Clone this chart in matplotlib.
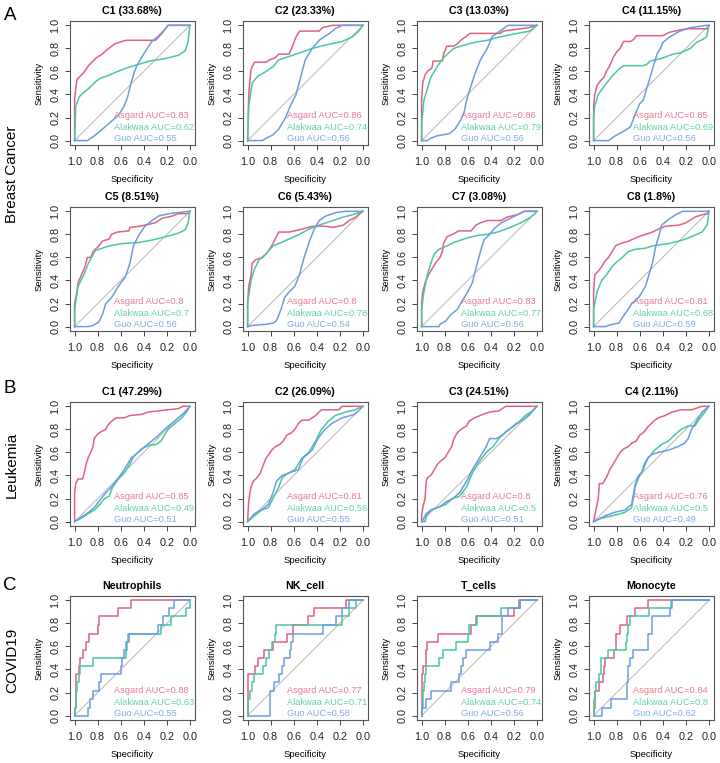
import numpy as np
import matplotlib
matplotlib.use("Agg")
import matplotlib.pyplot as plt

plt.rcParams["font.family"] = ["Liberation Sans", "DejaVu Sans"]

# ---- colours ----
RED = "#E2627A"
GREEN = "#48C89C"
BLUE = "#6C9BE6"

# ---- Breast cancer (A) ----
bc_titles = ["C1 (33.68%)", "C2 (23.33%)", "C3 (13.03%)", "C4 (11.15%)",
             "C5 (8.51%)", "C6 (5.43%)", "C7 (3.08%)", "C8 (1.8%)"]
bc_auc_asgard = [0.83, 0.86, 0.86, 0.85, 0.8, 0.8, 0.83, 0.81]
bc_auc_alakwaa = [0.62, 0.74, 0.79, 0.69, 0.7, 0.78, 0.77, 0.68]
bc_auc_guo = [0.55, 0.56, 0.56, 0.56, 0.56, 0.54, 0.56, 0.59]

bc1_asgard_spec = [1.0, 1.0, 0.99, 0.98, 0.95, 0.92, 0.90, 0.88, 0.85, 0.81, 0.76, 0.73, 0.69, 0.65, 0.59, 0.55, 0.30, 0.25, 0.19, 0.0]
bc1_asgard_sens = [0.0, 0.35, 0.45, 0.53, 0.56, 0.59, 0.62, 0.65, 0.68, 0.72, 0.75, 0.78, 0.81, 0.84, 0.86, 0.87, 0.87, 0.92, 1.0, 1.0]
bc1_alakwaa_spec = [1.0, 0.99, 0.96, 0.93, 0.88, 0.82, 0.78, 0.72, 0.65, 0.55, 0.45, 0.35, 0.22, 0.10, 0.04, 0.015, 0.0]
bc1_alakwaa_sens = [0.0, 0.30, 0.38, 0.41, 0.45, 0.51, 0.54, 0.56, 0.59, 0.63, 0.66, 0.69, 0.71, 0.74, 0.78, 0.86, 1.0]
bc1_guo_spec = [1.0, 0.89, 0.83, 0.77, 0.70, 0.62, 0.57, 0.54, 0.51, 0.48, 0.46, 0.42, 0.37, 0.33, 0.28, 0.23, 0.19, 0.0]
bc1_guo_sens = [0.0, 0.0, 0.04, 0.09, 0.15, 0.22, 0.30, 0.38, 0.50, 0.60, 0.65, 0.72, 0.80, 0.86, 0.90, 0.95, 1.0, 1.0]

bc2_asgard_spec = [1.0, 0.99, 0.98, 0.97, 0.94, 0.84, 0.81, 0.76, 0.73, 0.64, 0.61, 0.58, 0.55, 0.38, 0.35, 0.27, 0.0]
bc2_asgard_sens = [0.0, 0.40, 0.52, 0.62, 0.68, 0.68, 0.70, 0.72, 0.75, 0.75, 0.82, 0.90, 0.95, 0.95, 0.98, 1.0, 1.0]
bc2_alakwaa_spec = [1.0, 0.99, 0.96, 0.91, 0.84, 0.78, 0.73, 0.64, 0.55, 0.44, 0.32, 0.18, 0.09, 0.035, 0.0]
bc2_alakwaa_sens = [0.0, 0.30, 0.50, 0.56, 0.60, 0.64, 0.70, 0.73, 0.76, 0.80, 0.83, 0.86, 0.90, 0.95, 1.0]
bc2_guo_spec = [1.0, 0.87, 0.84, 0.78, 0.73, 0.67, 0.63, 0.58, 0.54, 0.50, 0.44, 0.38, 0.29, 0.24, 0.18, 0.0]
bc2_guo_sens = [0.0, 0.0, 0.02, 0.05, 0.10, 0.20, 0.30, 0.40, 0.55, 0.70, 0.80, 0.87, 0.93, 0.97, 1.0, 1.0]

bc3_asgard_spec = [1.0, 1.0, 0.99, 0.97, 0.95, 0.91, 0.90, 0.82, 0.81, 0.78, 0.72, 0.69, 0.66, 0.58, 0.32, 0.29, 0.14, 0.07, 0.0]
bc3_asgard_sens = [0.0, 0.35, 0.50, 0.57, 0.60, 0.63, 0.69, 0.69, 0.75, 0.82, 0.82, 0.84, 0.87, 0.93, 0.93, 0.95, 0.97, 0.98, 1.0]
bc3_alakwaa_spec = [1.0, 1.0, 0.98, 0.95, 0.92, 0.86, 0.81, 0.72, 0.66, 0.55, 0.43, 0.32, 0.17, 0.06, 0.0]
bc3_alakwaa_sens = [0.0, 0.15, 0.35, 0.45, 0.55, 0.65, 0.72, 0.80, 0.82, 0.85, 0.87, 0.90, 0.93, 0.95, 1.0]
bc3_guo_spec = [1.0, 0.95, 0.92, 0.87, 0.82, 0.76, 0.71, 0.66, 0.63, 0.61, 0.58, 0.53, 0.49, 0.43, 0.39, 0.32, 0.25, 0.0]
bc3_guo_sens = [0.0, 0.0, 0.02, 0.04, 0.05, 0.06, 0.10, 0.18, 0.25, 0.35, 0.45, 0.60, 0.70, 0.80, 0.90, 0.95, 1.0, 1.0]

bc4_asgard_spec = [1.0, 1.0, 0.99, 0.97, 0.94, 0.91, 0.89, 0.86, 0.83, 0.80, 0.77, 0.74, 0.68, 0.65, 0.63, 0.40, 0.34, 0.25, 0.19, 0.01, 0.0]
bc4_asgard_sens = [0.0, 0.30, 0.40, 0.48, 0.52, 0.55, 0.60, 0.65, 0.72, 0.77, 0.80, 0.86, 0.86, 0.88, 0.91, 0.91, 0.94, 0.96, 0.97, 0.97, 1.0]
bc4_alakwaa_spec = [1.0, 1.0, 0.99, 0.96, 0.91, 0.87, 0.83, 0.78, 0.74, 0.57, 0.54, 0.51, 0.42, 0.31, 0.25, 0.16, 0.11, 0.05, 0.02, 0.0]
bc4_alakwaa_sens = [0.0, 0.20, 0.30, 0.40, 0.47, 0.52, 0.57, 0.62, 0.65, 0.65, 0.66, 0.69, 0.71, 0.75, 0.76, 0.80, 0.85, 0.88, 0.90, 1.0]
bc4_guo_spec = [1.0, 0.87, 0.83, 0.78, 0.74, 0.68, 0.65, 0.63, 0.60, 0.57, 0.54, 0.51, 0.48, 0.45, 0.42, 0.40, 0.34, 0.25, 0.16, 0.02, 0.0]
bc4_guo_sens = [0.0, 0.0, 0.03, 0.06, 0.08, 0.12, 0.20, 0.25, 0.32, 0.35, 0.45, 0.55, 0.65, 0.75, 0.80, 0.85, 0.90, 0.95, 0.98, 1.0, 1.0]

bc5_asgard_spec = [1.0, 1.0, 0.98, 0.97, 0.94, 0.91, 0.89, 0.86, 0.84, 0.79, 0.76, 0.70, 0.68, 0.63, 0.53, 0.52, 0.44, 0.39, 0.30, 0.24, 0.15, 0.10, 0.01, 0.0]
bc5_asgard_sens = [0.0, 0.20, 0.30, 0.38, 0.45, 0.52, 0.60, 0.60, 0.65, 0.70, 0.74, 0.76, 0.80, 0.82, 0.83, 0.86, 0.87, 0.88, 0.90, 0.94, 0.96, 0.98, 0.98, 1.0]
bc5_alakwaa_spec = [1.0, 1.0, 0.97, 0.92, 0.88, 0.82, 0.70, 0.59, 0.44, 0.33, 0.21, 0.10, 0.04, 0.015, 0.0]
bc5_alakwaa_sens = [0.0, 0.15, 0.35, 0.45, 0.55, 0.66, 0.70, 0.72, 0.73, 0.75, 0.78, 0.81, 0.84, 0.90, 1.0]
bc5_guo_spec = [1.0, 0.88, 0.84, 0.79, 0.76, 0.73, 0.68, 0.62, 0.56, 0.52, 0.49, 0.44, 0.39, 0.33, 0.27, 0.18, 0.01, 0.0]
bc5_guo_sens = [0.0, 0.0, 0.01, 0.04, 0.10, 0.20, 0.25, 0.35, 0.43, 0.55, 0.70, 0.80, 0.87, 0.92, 0.96, 0.98, 1.0, 1.0]

bc6_asgard_spec = [1.0, 1.0, 0.99, 0.97, 0.96, 0.93, 0.87, 0.84, 0.81, 0.78, 0.75, 0.73, 0.64, 0.55, 0.44, 0.32, 0.26, 0.17, 0.12, 0.06, 0.03, 0.0]
bc6_asgard_sens = [0.0, 0.20, 0.35, 0.45, 0.55, 0.58, 0.60, 0.63, 0.67, 0.72, 0.78, 0.82, 0.82, 0.84, 0.87, 0.87, 0.86, 0.88, 0.92, 0.95, 0.98, 1.0]
bc6_alakwaa_spec = [1.0, 1.0, 0.97, 0.94, 0.90, 0.84, 0.78, 0.73, 0.64, 0.55, 0.46, 0.38, 0.26, 0.17, 0.09, 0.0]
bc6_alakwaa_sens = [0.0, 0.20, 0.40, 0.50, 0.58, 0.63, 0.70, 0.72, 0.76, 0.80, 0.85, 0.88, 0.92, 0.95, 0.97, 1.0]
bc6_guo_spec = [1.0, 0.96, 0.84, 0.78, 0.75, 0.71, 0.68, 0.64, 0.59, 0.55, 0.51, 0.46, 0.42, 0.38, 0.32, 0.23, 0.15, 0.0]
bc6_guo_sens = [0.0, 0.01, 0.02, 0.03, 0.05, 0.15, 0.25, 0.30, 0.35, 0.45, 0.60, 0.75, 0.85, 0.92, 0.96, 0.99, 1.0, 1.0]

bc7_asgard_spec = [1.0, 1.0, 0.99, 0.97, 0.94, 0.91, 0.88, 0.84, 0.82, 0.81, 0.78, 0.73, 0.68, 0.57, 0.53, 0.49, 0.43, 0.31, 0.26, 0.17, 0.11, 0.0]
bc7_asgard_sens = [0.0, 0.20, 0.30, 0.38, 0.45, 0.50, 0.55, 0.60, 0.65, 0.72, 0.78, 0.80, 0.83, 0.83, 0.88, 0.90, 0.92, 0.92, 0.95, 0.97, 1.0, 1.0]
bc7_alakwaa_spec = [1.0, 1.0, 0.98, 0.95, 0.92, 0.89, 0.85, 0.78, 0.72, 0.60, 0.52, 0.43, 0.34, 0.23, 0.14, 0.05, 0.0]
bc7_alakwaa_sens = [0.0, 0.15, 0.30, 0.45, 0.55, 0.63, 0.67, 0.70, 0.73, 0.77, 0.79, 0.80, 0.82, 0.86, 0.90, 0.95, 1.0]
bc7_guo_spec = [1.0, 0.85, 0.84, 0.79, 0.75, 0.69, 0.65, 0.60, 0.56, 0.53, 0.49, 0.46, 0.41, 0.37, 0.31, 0.23, 0.17, 0.11, 0.0]
bc7_guo_sens = [0.0, 0.0, 0.02, 0.05, 0.10, 0.15, 0.22, 0.30, 0.38, 0.50, 0.65, 0.75, 0.80, 0.85, 0.90, 0.94, 0.97, 1.0, 1.0]

bc8_asgard_spec = [1.0, 1.0, 0.99, 0.96, 0.93, 0.90, 0.87, 0.84, 0.81, 0.77, 0.70, 0.61, 0.55, 0.49, 0.43, 0.38, 0.26, 0.20, 0.12, 0.06, 0.01, 0.0]
bc8_asgard_sens = [0.0, 0.30, 0.45, 0.48, 0.52, 0.57, 0.60, 0.65, 0.70, 0.72, 0.74, 0.78, 0.80, 0.82, 0.85, 0.87, 0.88, 0.90, 0.95, 0.97, 0.98, 1.0]
bc8_alakwaa_spec = [1.0, 1.0, 0.97, 0.93, 0.88, 0.84, 0.80, 0.75, 0.70, 0.64, 0.55, 0.49, 0.35, 0.23, 0.15, 0.06, 0.015, 0.0]
bc8_alakwaa_sens = [0.0, 0.15, 0.30, 0.40, 0.46, 0.52, 0.56, 0.60, 0.65, 0.67, 0.68, 0.70, 0.72, 0.75, 0.78, 0.82, 0.88, 1.0]
bc8_guo_spec = [1.0, 0.90, 0.84, 0.78, 0.75, 0.70, 0.67, 0.61, 0.58, 0.55, 0.52, 0.49, 0.46, 0.43, 0.41, 0.35, 0.29, 0.23, 0.0]
bc8_guo_sens = [0.0, 0.0, 0.02, 0.03, 0.08, 0.15, 0.20, 0.25, 0.30, 0.35, 0.45, 0.55, 0.70, 0.80, 0.88, 0.93, 0.97, 1.0, 1.0]

# ---- Leukemia (B) ----
lk_titles = ["C1 (47.29%)", "C2 (26.09%)", "C3 (24.51%)", "C4 (2.11%)"]
lk_auc_asgard = [0.85, 0.81, 0.8, 0.76]
lk_auc_alakwaa = [0.49, 0.56, 0.5, 0.5]
lk_auc_guo = [0.51, 0.55, 0.51, 0.49]

lk1_asgard_spec = [1.0, 1.0, 0.99, 0.97, 0.93, 0.91, 0.90, 0.88, 0.86, 0.84, 0.83, 0.80, 0.77, 0.73, 0.71, 0.68, 0.64, 0.57, 0.52, 0.42, 0.36, 0.19, 0.10, 0.06, 0.0]
lk1_asgard_sens = [0.0, 0.25, 0.33, 0.37, 0.37, 0.45, 0.50, 0.56, 0.60, 0.65, 0.72, 0.76, 0.78, 0.80, 0.84, 0.87, 0.90, 0.90, 0.92, 0.93, 0.95, 0.97, 0.98, 1.0, 1.0]
lk1_alakwaa_spec = [1.0, 0.94, 0.88, 0.83, 0.78, 0.74, 0.70, 0.67, 0.62, 0.57, 0.52, 0.49, 0.42, 0.36, 0.29, 0.25, 0.22, 0.19, 0.13, 0.07, 0.03, 0.0]
lk1_alakwaa_sens = [0.0, 0.03, 0.07, 0.10, 0.15, 0.20, 0.22, 0.30, 0.37, 0.42, 0.50, 0.56, 0.63, 0.66, 0.67, 0.70, 0.75, 0.80, 0.85, 0.90, 0.95, 1.0]
lk1_guo_spec = [1.0, 0.94, 0.88, 0.83, 0.77, 0.73, 0.68, 0.62, 0.57, 0.51, 0.45, 0.39, 0.33, 0.28, 0.22, 0.16, 0.10, 0.04, 0.0]
lk1_guo_sens = [0.0, 0.04, 0.08, 0.12, 0.20, 0.25, 0.30, 0.38, 0.45, 0.55, 0.60, 0.65, 0.70, 0.74, 0.80, 0.85, 0.90, 0.95, 1.0]

lk2_asgard_spec = [1.0, 0.99, 0.98, 0.97, 0.95, 0.92, 0.89, 0.86, 0.84, 0.79, 0.76, 0.72, 0.69, 0.66, 0.62, 0.59, 0.56, 0.53, 0.47, 0.41, 0.36, 0.21, 0.18, 0.0]
lk2_asgard_sens = [0.0, 0.18, 0.25, 0.30, 0.35, 0.38, 0.42, 0.50, 0.55, 0.62, 0.65, 0.67, 0.70, 0.75, 0.77, 0.80, 0.85, 0.88, 0.88, 0.92, 0.97, 0.97, 1.0, 1.0]
lk2_alakwaa_spec = [1.0, 0.94, 0.88, 0.82, 0.78, 0.73, 0.70, 0.65, 0.59, 0.53, 0.47, 0.41, 0.36, 0.30, 0.24, 0.15, 0.07, 0.0]
lk2_alakwaa_sens = [0.0, 0.05, 0.10, 0.12, 0.20, 0.30, 0.38, 0.42, 0.45, 0.55, 0.60, 0.70, 0.80, 0.87, 0.92, 0.95, 0.97, 1.0]
lk2_guo_spec = [1.0, 0.94, 0.88, 0.82, 0.78, 0.75, 0.70, 0.62, 0.56, 0.52, 0.44, 0.39, 0.33, 0.27, 0.18, 0.07, 0.0]
lk2_guo_sens = [0.0, 0.07, 0.10, 0.15, 0.25, 0.35, 0.40, 0.43, 0.45, 0.55, 0.62, 0.72, 0.80, 0.85, 0.90, 0.93, 1.0]

lk3_asgard_spec = [1.0, 1.0, 0.99, 0.97, 0.96, 0.95, 0.92, 0.89, 0.86, 0.83, 0.80, 0.77, 0.74, 0.72, 0.69, 0.66, 0.61, 0.59, 0.54, 0.47, 0.41, 0.33, 0.27, 0.0]
lk3_asgard_sens = [0.0, 0.05, 0.12, 0.20, 0.35, 0.38, 0.40, 0.45, 0.50, 0.53, 0.55, 0.60, 0.65, 0.72, 0.77, 0.80, 0.83, 0.87, 0.90, 0.93, 0.95, 0.96, 1.0, 1.0]
lk3_alakwaa_spec = [1.0, 0.96, 0.92, 0.84, 0.79, 0.73, 0.67, 0.61, 0.56, 0.50, 0.44, 0.38, 0.33, 0.27, 0.21, 0.15, 0.10, 0.04, 0.0]
lk3_alakwaa_sens = [0.0, 0.07, 0.10, 0.13, 0.15, 0.20, 0.22, 0.30, 0.42, 0.52, 0.60, 0.65, 0.72, 0.78, 0.82, 0.87, 0.92, 0.96, 1.0]
lk3_guo_spec = [1.0, 0.97, 0.96, 0.92, 0.84, 0.79, 0.73, 0.67, 0.61, 0.56, 0.50, 0.44, 0.41, 0.35, 0.30, 0.24, 0.18, 0.12, 0.07, 0.0]
lk3_guo_sens = [0.0, 0.0, 0.05, 0.10, 0.13, 0.17, 0.20, 0.25, 0.35, 0.45, 0.55, 0.65, 0.72, 0.72, 0.75, 0.80, 0.85, 0.88, 0.92, 1.0]

lk4_asgard_spec = [1.0, 0.99, 0.97, 0.96, 0.95, 0.92, 0.89, 0.86, 0.83, 0.80, 0.77, 0.74, 0.70, 0.67, 0.63, 0.60, 0.56, 0.53, 0.48, 0.44, 0.38, 0.32, 0.24, 0.15, 0.06, 0.0]
lk4_asgard_sens = [0.0, 0.05, 0.15, 0.20, 0.33, 0.33, 0.38, 0.45, 0.50, 0.55, 0.60, 0.63, 0.65, 0.68, 0.70, 0.75, 0.78, 0.82, 0.87, 0.90, 0.92, 0.95, 0.97, 0.97, 1.0, 1.0]
lk4_alakwaa_spec = [1.0, 0.93, 0.84, 0.73, 0.67, 0.64, 0.61, 0.57, 0.53, 0.47, 0.41, 0.35, 0.30, 0.24, 0.18, 0.12, 0.09, 0.035, 0.0]
lk4_alakwaa_sens = [0.0, 0.03, 0.05, 0.08, 0.12, 0.30, 0.38, 0.45, 0.55, 0.62, 0.67, 0.70, 0.75, 0.80, 0.83, 0.83, 0.88, 0.95, 1.0]
lk4_guo_spec = [1.0, 0.96, 0.90, 0.82, 0.73, 0.67, 0.64, 0.61, 0.58, 0.56, 0.53, 0.50, 0.44, 0.35, 0.27, 0.21, 0.18, 0.15, 0.12, 0.09, 0.06, 0.0]
lk4_guo_sens = [0.0, 0.02, 0.05, 0.08, 0.10, 0.15, 0.32, 0.40, 0.43, 0.50, 0.55, 0.58, 0.60, 0.62, 0.65, 0.68, 0.72, 0.80, 0.85, 0.90, 0.95, 1.0]

# ---- COVID19 (C), step curves: sensitivity reached at each specificity ----
cv_titles = ["Neutrophils", "NK_cell", "T_cells", "Monocyte"]
cv_auc_asgard = [0.88, 0.77, 0.79, 0.84]
cv_auc_alakwaa = [0.63, 0.71, 0.74, 0.8]
cv_auc_guo = [0.55, 0.58, 0.56, 0.62]

cv1_asgard_spec = [1.0, 1.0, 0.99, 0.985, 0.965, 0.95, 0.93, 0.90, 0.875, 0.80, 0.785, 0.625, 0.51, 0.0]
cv1_asgard_sens = [0.0, 0.07, 0.29, 0.36, 0.43, 0.50, 0.57, 0.64, 0.71, 0.79, 0.86, 0.93, 1.0, 1.0]
cv1_alakwaa_spec = [1.0, 1.0, 0.99, 0.98, 0.965, 0.955, 0.84, 0.555, 0.545, 0.54, 0.25, 0.165, 0.035, 0.0]
cv1_alakwaa_sens = [0.0, 0.07, 0.21, 0.29, 0.36, 0.43, 0.50, 0.57, 0.64, 0.71, 0.79, 0.86, 0.93, 1.0]
cv1_guo_spec = [1.0, 0.885, 0.87, 0.84, 0.785, 0.77, 0.60, 0.585, 0.57, 0.55, 0.53, 0.28, 0.235, 0.18, 0.135, 0.0]
cv1_guo_sens = [0.0, 0.07, 0.14, 0.21, 0.29, 0.36, 0.43, 0.50, 0.57, 0.64, 0.71, 0.79, 0.86, 0.93, 1.0, 1.0]

cv2_asgard_spec = [1.0, 1.0, 0.994, 0.94, 0.91, 0.855, 0.78, 0.655, 0.61, 0.475, 0.425, 0.145, 0.0]
cv2_asgard_sens = [0.0, 0.21, 0.36, 0.43, 0.50, 0.57, 0.64, 0.71, 0.79, 0.86, 0.93, 1.0, 1.0]
cv2_alakwaa_spec = [1.0, 1.0, 0.98, 0.965, 0.945, 0.87, 0.84, 0.815, 0.785, 0.765, 0.755, 0.18, 0.12, 0.06, 0.0]
cv2_alakwaa_sens = [0.0, 0.14, 0.21, 0.29, 0.36, 0.43, 0.50, 0.57, 0.64, 0.71, 0.79, 0.86, 0.93, 1.0, 1.0]
cv2_guo_spec = [1.0, 0.81, 0.77, 0.725, 0.70, 0.685, 0.635, 0.62, 0.61, 0.35, 0.235, 0.18, 0.12, 0.0]
cv2_guo_sens = [0.0, 0.21, 0.29, 0.36, 0.43, 0.50, 0.57, 0.64, 0.71, 0.79, 0.86, 0.93, 1.0, 1.0]

cv3_asgard_spec = [1.0, 1.0, 0.995, 0.985, 0.965, 0.957, 0.855, 0.57, 0.527, 0.195, 0.153, 0.0]
cv3_asgard_sens = [0.0, 0.14, 0.36, 0.43, 0.57, 0.64, 0.71, 0.79, 0.86, 0.93, 1.0, 1.0]
cv3_alakwaa_spec = [1.0, 1.0, 0.99, 0.98, 0.968, 0.963, 0.845, 0.815, 0.705, 0.595, 0.585, 0.52, 0.31, 0.145, 0.0]
cv3_alakwaa_sens = [0.0, 0.07, 0.21, 0.29, 0.36, 0.43, 0.50, 0.57, 0.64, 0.71, 0.79, 0.86, 0.93, 1.0, 1.0]
cv3_guo_spec = [1.0, 1.0, 0.96, 0.915, 0.745, 0.68, 0.655, 0.645, 0.615, 0.41, 0.335, 0.30, 0.25, 0.145, 0.0]
cv3_guo_sens = [0.0, 0.07, 0.14, 0.21, 0.29, 0.36, 0.43, 0.50, 0.57, 0.64, 0.71, 0.86, 0.93, 1.0, 1.0]

cv4_asgard_spec = [1.0, 1.0, 0.99, 0.95, 0.92, 0.91, 0.90, 0.82, 0.81, 0.775, 0.71, 0.645, 0.53, 0.0]
cv4_asgard_sens = [0.0, 0.07, 0.21, 0.29, 0.36, 0.43, 0.50, 0.57, 0.71, 0.79, 0.86, 0.93, 1.0, 1.0]
cv4_alakwaa_spec = [1.0, 1.0, 0.985, 0.975, 0.95, 0.94, 0.935, 0.875, 0.72, 0.71, 0.70, 0.685, 0.52, 0.33, 0.0]
cv4_alakwaa_sens = [0.0, 0.14, 0.21, 0.29, 0.36, 0.43, 0.50, 0.57, 0.64, 0.71, 0.79, 0.86, 0.93, 1.0, 1.0]
cv4_guo_spec = [1.0, 0.93, 0.845, 0.71, 0.70, 0.685, 0.655, 0.525, 0.49, 0.335, 0.32, 0.0]
cv4_guo_sens = [0.0, 0.07, 0.14, 0.29, 0.43, 0.50, 0.57, 0.71, 0.86, 0.93, 1.0, 1.0]

bc_curves = [
    [(bc1_asgard_spec, bc1_asgard_sens), (bc1_alakwaa_spec, bc1_alakwaa_sens), (bc1_guo_spec, bc1_guo_sens)],
    [(bc2_asgard_spec, bc2_asgard_sens), (bc2_alakwaa_spec, bc2_alakwaa_sens), (bc2_guo_spec, bc2_guo_sens)],
    [(bc3_asgard_spec, bc3_asgard_sens), (bc3_alakwaa_spec, bc3_alakwaa_sens), (bc3_guo_spec, bc3_guo_sens)],
    [(bc4_asgard_spec, bc4_asgard_sens), (bc4_alakwaa_spec, bc4_alakwaa_sens), (bc4_guo_spec, bc4_guo_sens)],
    [(bc5_asgard_spec, bc5_asgard_sens), (bc5_alakwaa_spec, bc5_alakwaa_sens), (bc5_guo_spec, bc5_guo_sens)],
    [(bc6_asgard_spec, bc6_asgard_sens), (bc6_alakwaa_spec, bc6_alakwaa_sens), (bc6_guo_spec, bc6_guo_sens)],
    [(bc7_asgard_spec, bc7_asgard_sens), (bc7_alakwaa_spec, bc7_alakwaa_sens), (bc7_guo_spec, bc7_guo_sens)],
    [(bc8_asgard_spec, bc8_asgard_sens), (bc8_alakwaa_spec, bc8_alakwaa_sens), (bc8_guo_spec, bc8_guo_sens)],
]
lk_curves = [
    [(lk1_asgard_spec, lk1_asgard_sens), (lk1_alakwaa_spec, lk1_alakwaa_sens), (lk1_guo_spec, lk1_guo_sens)],
    [(lk2_asgard_spec, lk2_asgard_sens), (lk2_alakwaa_spec, lk2_alakwaa_sens), (lk2_guo_spec, lk2_guo_sens)],
    [(lk3_asgard_spec, lk3_asgard_sens), (lk3_alakwaa_spec, lk3_alakwaa_sens), (lk3_guo_spec, lk3_guo_sens)],
    [(lk4_asgard_spec, lk4_asgard_sens), (lk4_alakwaa_spec, lk4_alakwaa_sens), (lk4_guo_spec, lk4_guo_sens)],
]
cv_curves = [
    [(cv1_asgard_spec, cv1_asgard_sens), (cv1_alakwaa_spec, cv1_alakwaa_sens), (cv1_guo_spec, cv1_guo_sens)],
    [(cv2_asgard_spec, cv2_asgard_sens), (cv2_alakwaa_spec, cv2_alakwaa_sens), (cv2_guo_spec, cv2_guo_sens)],
    [(cv3_asgard_spec, cv3_asgard_sens), (cv3_alakwaa_spec, cv3_alakwaa_sens), (cv3_guo_spec, cv3_guo_sens)],
    [(cv4_asgard_spec, cv4_asgard_sens), (cv4_alakwaa_spec, cv4_alakwaa_sens), (cv4_guo_spec, cv4_guo_sens)],
]

W, H = 720, 763
fig = plt.figure(figsize=(W / 100, H / 100), dpi=100)

col_left = [70, 243, 417, 589]
row_top = [20.7, 206.7, 401.7, 595.7]
box = 124.5


def make_ax(row, col):
    l, t = col_left[col], row_top[row]
    return fig.add_axes([l / W, 1 - (t + box) / H, box / W, box / H])


def draw_panel(ax, title, curves, aucs, step=False):
    ax.plot([1, 0], [0, 1], color="#b5b5b5", lw=0.7, zorder=1)
    names = ["Asgard", "Alakwaa", "Guo"]
    colors = [RED, GREEN, BLUE]
    for (sp, se), c in zip(curves, colors):
        ax.plot(sp, se, color=c, lw=1.1, zorder=2,
                drawstyle="steps-post" if step else "default")
    for i, (n, a, c) in enumerate(zip(names, aucs, colors)):
        ax.text(0.655, 0.215 - 0.098 * i, f"{n} AUC={a:g}", color=c, alpha=0.85,
                fontsize=6.7, ha="left", va="center", clip_on=False, zorder=3)
    ax.set_xlim(1.04, -0.04)
    ax.set_ylim(-0.04, 1.04)
    ticks = np.arange(0, 1.01, 0.2)
    ax.set_xticks(ticks)
    ax.set_yticks(ticks)
    ax.set_xticklabels([f"{t:.1f}" for t in ticks])
    ax.set_yticklabels([f"{t:.1f}" for t in ticks], rotation=90, va="center")
    ax.tick_params(length=3.5, width=0.7, colors="#444444", labelsize=7.8,
                   labelcolor="#222222")
    ax.tick_params(axis="x", pad=5)
    ax.tick_params(axis="y", pad=3.5)
    for s in ax.spines.values():
        s.set_color("#555555")
        s.set_linewidth(0.8)
    ax.set_title(title, fontsize=7.7, fontweight="bold", pad=5)
    ax.set_xlabel("Specificity", fontsize=6.8, labelpad=6)
    ax.set_ylabel("Sensitivity", fontsize=6.8, labelpad=5)


for i in range(8):
    ax = make_ax(i // 4, i % 4)
    draw_panel(ax, bc_titles[i], bc_curves[i],
               [bc_auc_asgard[i], bc_auc_alakwaa[i], bc_auc_guo[i]])
for i in range(4):
    ax = make_ax(2, i)
    draw_panel(ax, lk_titles[i], lk_curves[i],
               [lk_auc_asgard[i], lk_auc_alakwaa[i], lk_auc_guo[i]])
for i in range(4):
    ax = make_ax(3, i)
    draw_panel(ax, cv_titles[i], cv_curves[i],
               [cv_auc_asgard[i], cv_auc_alakwaa[i], cv_auc_guo[i]], step=True)

# panel letters and row labels
for letter, y in [("A", 16), ("B", 389), ("C", 585)]:
    fig.text(10 / W, 1 - y / H, letter, fontsize=13.5, ha="center", va="center")
for lab, y in [("Breast Cancer", 174), ("Leukemia", 465), ("COVID19", 660)]:
    fig.text(12 / W, 1 - y / H, lab, fontsize=11, rotation=90,
             ha="center", va="center")

fig.savefig("out.png", dpi=100)
